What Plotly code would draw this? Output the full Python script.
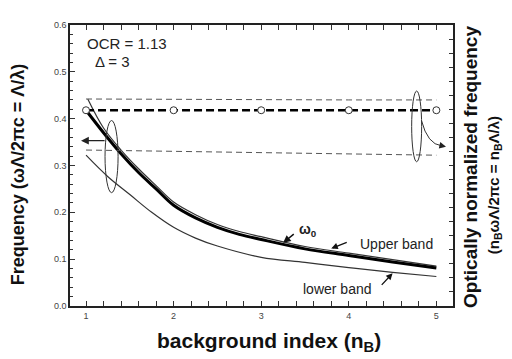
import plotly.graph_objects as go

# ---- data ----
n_omega0 = [1.0, 1.2, 1.4, 1.6, 1.8, 2.0, 2.25, 2.5, 2.75, 3.0, 3.5, 4.0, 4.5, 5.0]
omega0 = [0.418, 0.370, 0.325, 0.285, 0.250, 0.215, 0.188, 0.168, 0.153, 0.142, 0.122, 0.108, 0.094, 0.081]

n_upper = [1.02, 1.2, 1.4, 1.6, 1.8, 2.0, 2.25, 2.5, 2.75, 3.0, 3.5, 4.0, 4.5, 5.0]
upper_band = [0.442, 0.380, 0.333, 0.293, 0.257, 0.222, 0.195, 0.174, 0.159, 0.148, 0.127, 0.113, 0.099, 0.085]

n_lower = [1.0, 1.25, 1.5, 1.75, 2.0, 2.25, 2.5, 3.0, 3.5, 4.0, 4.5, 5.0]
lower_band = [0.322, 0.276, 0.238, 0.200, 0.168, 0.145, 0.128, 0.104, 0.093, 0.082, 0.072, 0.063]

n_norm = [1, 2, 3, 4, 5]
norm_upper = [0.442, 0.441, 0.441, 0.440, 0.440]
norm_omega0 = [0.418, 0.418, 0.418, 0.418, 0.418]
norm_lower = [0.333, 0.330, 0.327, 0.325, 0.322]

x_ticks = [1, 2, 3, 4, 5]
y_ticks = [0.0, 0.1, 0.2, 0.3, 0.4, 0.5, 0.6]

FONT = "Liberation Sans, Arial, sans-serif"

fig = go.Figure()

# normalized (right axis) dashed lines
fig.add_trace(go.Scatter(x=n_norm, y=norm_upper, mode="lines", yaxis="y2",
                         line=dict(color="#555", width=1, dash="6px,4px"), showlegend=False))
fig.add_trace(go.Scatter(x=n_norm, y=norm_lower, mode="lines", yaxis="y2",
                         line=dict(color="#555", width=1, dash="6px,4px"), showlegend=False))
fig.add_trace(go.Scatter(x=n_norm, y=norm_omega0, mode="lines+markers", yaxis="y2",
                         line=dict(color="black", width=2.5, dash="8px,4px"),
                         marker=dict(symbol="circle", size=7, color="white",
                                     line=dict(color="#333", width=1)),
                         showlegend=False))

# frequency curves (left axis)
fig.add_trace(go.Scatter(x=n_lower, y=lower_band, mode="lines", line_shape="spline",
                         line=dict(color="#333", width=1.2), showlegend=False))
fig.add_trace(go.Scatter(x=n_upper, y=upper_band, mode="lines", line_shape="spline",
                         line=dict(color="#333", width=1.2), showlegend=False))
fig.add_trace(go.Scatter(x=n_omega0, y=omega0, mode="lines", line_shape="spline",
                         line=dict(color="black", width=3), showlegend=False))

# ellipses
fig.add_shape(type="circle", xref="x", yref="y", x0=1.217, x1=1.366, y0=0.242, y1=0.396,
              line=dict(color="#333", width=1))
fig.add_shape(type="circle", xref="x", yref="y", x0=4.718, x1=4.832, y0=0.308, y1=0.459,
              line=dict(color="#333", width=1))
# curved arrow to right axis
fig.add_shape(type="path", xref="x", yref="y",
              path="M 4.83,0.396 Q 4.90,0.345 5.06,0.342",
              line=dict(color="#333", width=1))

annotations = [
    dict(x=0.943, y=0.353, ax=1.229, ay=0.353, xref="x", yref="y", axref="x", ayref="y",
         showarrow=True, arrowhead=2, arrowsize=1.2, arrowwidth=1.3, arrowcolor="#222", text=""),
    dict(x=5.11, y=0.340, ax=5.04, ay=0.343, xref="x", yref="y", axref="x", ayref="y",
         showarrow=True, arrowhead=2, arrowsize=1.1, arrowwidth=1.2, arrowcolor="#222", text=""),
    dict(x=0.985, y=0.56, xref="x", yref="y", text="OCR = 1.13", showarrow=False,
         xanchor="left", font=dict(size=15, family=FONT, color="#222")),
    dict(x=1.08, y=0.522, xref="x", yref="y", text="Δ = 3", showarrow=False,
         xanchor="left", font=dict(size=15, family=FONT, color="#222")),
    dict(x=3.54, y=0.162, xref="x", yref="y", text="<b>ω<sub>0</sub></b>", showarrow=False,
         font=dict(size=14, family=FONT, color="#222")),
    dict(x=3.251, y=0.135, ax=3.389, ay=0.156, xref="x", yref="y", axref="x", ayref="y",
         showarrow=True, arrowhead=2, arrowsize=1, arrowwidth=1.5, arrowcolor="#111", text=""),
    dict(x=4.54, y=0.133, xref="x", yref="y", text="Upper band", showarrow=False,
         font=dict(size=14, family=FONT, color="#222")),
    dict(x=3.80, y=0.123, ax=3.994, ay=0.137, xref="x", yref="y", axref="x", ayref="y",
         showarrow=True, arrowhead=2, arrowsize=1, arrowwidth=1.3, arrowcolor="#111", text=""),
    dict(x=3.87, y=0.036, xref="x", yref="y", text="lower band", showarrow=False,
         font=dict(size=14, family=FONT, color="#222")),
    dict(x=4.50, y=0.070, ax=4.36, ay=0.042, xref="x", yref="y", axref="x", ayref="y",
         showarrow=True, arrowhead=2, arrowsize=1, arrowwidth=1.3, arrowcolor="#111", text=""),
    # axis titles
    dict(x=-0.137, y=0.467, xref="paper", yref="paper", textangle=-90, showarrow=False,
         xanchor="center", yanchor="middle",
         text="<b>Frequency (ωΛ/2πc = Λ/λ)</b>", font=dict(size=18, family=FONT, color="#111")),
    dict(x=1.047, y=0.495, xref="paper", yref="paper", textangle=-90, showarrow=False,
         xanchor="center", yanchor="middle",
         text="<b>Optically normalized frequency</b>",
         font=dict(size=19, family=FONT, color="#111")),
    dict(x=1.107, y=0.43, xref="paper", yref="paper", textangle=-90, showarrow=False,
         xanchor="center", yanchor="middle",
         text="<b>(n<sub>B</sub>ωΛ/2πc = n<sub>B</sub>Λ/λ)</b>",
         font=dict(size=15, family=FONT, color="#111")),
    dict(x=0.52, y=-0.128, xref="paper", yref="paper", showarrow=False,
         xanchor="center", yanchor="middle",
         text="<b>background index (n<sub>B</sub>)</b>", font=dict(size=21, family=FONT, color="#111")),
]

fig.update_layout(
    width=512, height=359,
    margin=dict(l=62, r=67, t=13, b=61),
    paper_bgcolor="white", plot_bgcolor="white",
    annotations=annotations,
    xaxis=dict(range=[0.817, 5.19], tickvals=x_ticks, ticktext=[str(v) for v in x_ticks],
               ticks="inside", ticklen=5, tickwidth=1, tickcolor="#333",
               minor=dict(dtick=0.2, ticks="inside", ticklen=3, tickcolor="#333"),
               showline=True, linecolor="#222", linewidth=1.5, mirror="allticks",
               showgrid=False, zeroline=False,
               tickfont=dict(size=9, family=FONT, color="#444")),
    yaxis=dict(range=[0, 0.6], tickvals=y_ticks, ticktext=[f"{v:.1f}" for v in y_ticks],
               ticks="inside", ticklen=5, tickwidth=1, tickcolor="#333",
               minor=dict(dtick=0.02, ticks="inside", ticklen=3, tickcolor="#333"),
               showline=True, linecolor="#222", linewidth=1.5, mirror=True,
               showgrid=False, zeroline=False,
               tickfont=dict(size=9, family=FONT, color="#444")),
    yaxis2=dict(range=[0, 0.6], overlaying="y", side="right", dtick=0.03,
                ticks="inside", ticklen=4, tickcolor="#333", showticklabels=False,
                showgrid=False, zeroline=False, showline=False),
)

fig.write_html("out.html")
